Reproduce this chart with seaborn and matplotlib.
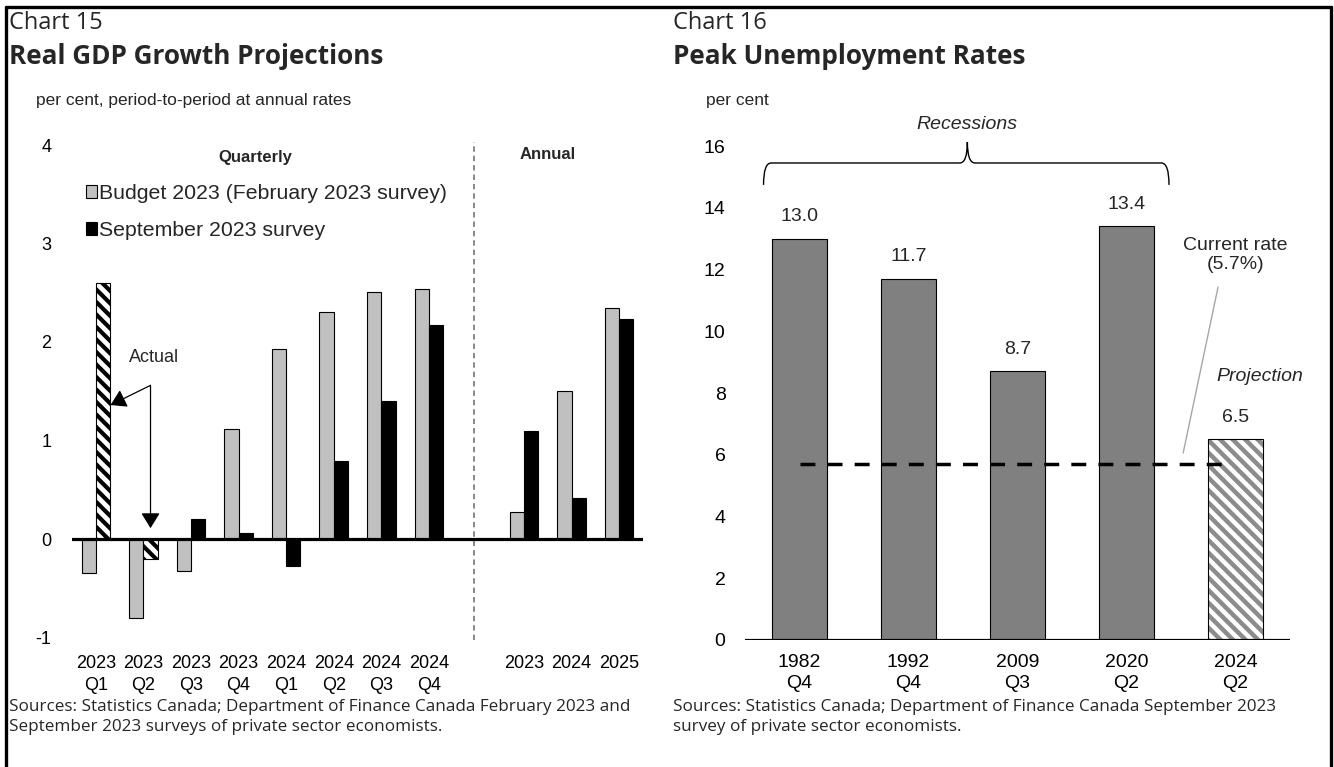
import matplotlib
matplotlib.use("Agg")
import numpy as np
import matplotlib.pyplot as plt
import seaborn as sns
import pandas as pd
from matplotlib.patches import Patch, Rectangle, PathPatch
from matplotlib.path import Path
from matplotlib.lines import Line2D
from matplotlib.collections import LineCollection
from matplotlib.transforms import IdentityTransform

# ---- Chart 15 data: real GDP growth, per cent, period-to-period at annual rates
quarter_labels = ["2023\nQ1", "2023\nQ2", "2023\nQ3", "2023\nQ4",
                  "2024\nQ1", "2024\nQ2", "2024\nQ3", "2024\nQ4"]
annual_labels = ["2023", "2024", "2025"]
series_names = ["Budget 2023 (February 2023 survey)", "September 2023 survey"]
budget_feb_2023 = [-0.35, -0.80, -0.32, 1.12, 1.93, 2.30, 2.51, 2.54, 0.27, 1.50, 2.35]
sept_2023 = [2.60, -0.20, 0.20, 0.06, -0.27, 0.79, 1.40, 2.17, 1.10, 0.42, 2.23]
actual_periods = ["2023\nQ1", "2023\nQ2"]

# ---- Chart 16 data: peak unemployment rates, per cent
peak_labels = ["1982\nQ4", "1992\nQ4", "2009\nQ3", "2020\nQ2", "2024\nQ2"]
peak_rates = [13.0, 11.7, 8.7, 13.4, 6.5]
current_rate = 5.7

W, H = 1334, 767

sns.set_theme(style="white")
plt.rcParams["font.family"] = ["Liberation Sans", "DejaVu Sans"]
plt.rcParams["axes.unicode_minus"] = False
TITLE_FONT = ["Open Sans", "DejaVu Sans"]


def fx(px):
    return px / W


def fy(py):
    return 1 - py / H


def stripe(ax, patch, color, lw, period=12.5):
    """Fill a bar with diagonal stripes (top-left to bottom-right), clipped to it."""
    (x0, y0), (x1, y1) = ax.transData.transform(
        [(patch.get_x(), patch.get_y()),
         (patch.get_x() + patch.get_width(), patch.get_y() + patch.get_height())])
    x0, x1 = sorted((x0, x1))
    y0, y1 = sorted((y0, y1))
    segs = []
    for c in np.arange(x0 + y0 - period, x1 + y1 + period, period):
        segs.append([(x0 - 5, c - x0 + 5), (x1 + 5, c - x1 - 5)])
    lc = LineCollection(segs, colors=color, linewidths=lw,
                        transform=IdentityTransform(), zorder=patch.get_zorder() + 0.05)
    ax.add_collection(lc, autolim=False)
    lc.set_clip_path(patch)
    ax.add_patch(Rectangle((patch.get_x(), patch.get_y()), patch.get_width(),
                           patch.get_height(), fill=False, edgecolor="black",
                           lw=0.8, zorder=patch.get_zorder() + 0.1))


fig = plt.figure(figsize=(W / 100, H / 100), dpi=100)
fig.patch.set_facecolor("white")

# outer frame
for xs, ys in [([6, 6], [7, 767]), ([6, 1331], [7, 7]), ([1331, 1331], [7, 767])]:
    fig.add_artist(Line2D([fx(x) for x in xs], [fy(y) for y in ys],
                          transform=fig.transFigure, color="black", lw=2.4))

# ================= Chart 15 =================
ax1 = fig.add_axes([fx(72), fy(637.5), (643 - 72) / W, (637.5 - 145) / H])
gap = " "
order = quarter_labels + [gap] + annual_labels
periods = quarter_labels + annual_labels
df1 = pd.DataFrame({
    "period": periods * 2,
    "series": [series_names[0]] * len(periods) + [series_names[1]] * len(periods),
    "value": budget_feb_2023 + sept_2023,
})
sns.barplot(data=df1, x="period", y="value", hue="series", order=order,
            hue_order=series_names, palette=["#C0C0C0", "#000000"], saturation=1,
            width=0.6, gap=0, edgecolor="black", linewidth=0.8, errorbar=None,
            legend=False, ax=ax1)

ax1.set_xlim(-0.5, len(order) - 0.5)
ax1.set_ylim(-1, 4)

# actual outcomes drawn striped
actual_idx = [order.index(p) for p in actual_periods]
for p in list(ax1.patches):
    cx = p.get_x() + p.get_width() / 2
    fc = p.get_facecolor()
    if fc[0] < 0.1 and any(abs(cx - (i + 0.15)) < 0.05 for i in actual_idx):
        p.set_facecolor("white")
        p.set_linewidth(0)
        stripe(ax1, p, "black", 3.0)

ax1.set_yticks(range(-1, 5))
ax1.set_xlabel("")
ax1.set_ylabel("")
for s in ax1.spines.values():
    s.set_visible(False)
ax1.axhline(0, color="black", lw=2.3, zorder=5)
ax1.tick_params(axis="both", length=0, labelsize=13, colors="black")
ax1.tick_params(axis="y", pad=15)
ax1.tick_params(axis="x", pad=12.5)
ax1.set_xticks(range(len(order)))
ax1.set_xticklabels(order, linespacing=1.38)

ax1.plot([7.95, 7.95], [-1.03, 4.03], ls=(0, (3, 2.2)), color="#7F7F7F",
         lw=1.3, clip_on=False)
ax1.text(3.35, 3.87, "Quarterly", ha="center", va="center", fontsize=12,
         fontweight="bold")
ax1.text(9.5, 3.9, "Annual", ha="center", va="center", fontsize=12,
         fontweight="bold")

handles = [Patch(facecolor="#C0C0C0", edgecolor="black", lw=0.8),
           Patch(facecolor="black", edgecolor="black", lw=0.8)]
ax1.legend(handles, series_names, loc="upper left",
           bbox_to_anchor=(fx(86), fy(184)), bbox_transform=fig.transFigure,
           frameon=False, fontsize=15.3, handlelength=0.5, handleheight=0.5,
           handletextpad=0.12, labelspacing=0.85, borderaxespad=0, borderpad=0)

# "Actual" callout
vx, vy = 1.15, 1.56
ax1.text(1.22, 1.84, "Actual", ha="center", va="center", fontsize=13)
arrow = dict(arrowstyle="-|>,head_length=0.47,head_width=0.29", color="black",
             lw=0.9, mutation_scale=20, shrinkA=0, shrinkB=0)
ax1.annotate("", xy=(0.31, 1.36), xytext=(vx, vy), arrowprops=arrow)
ax1.annotate("", xy=(1.15, 0.11), xytext=(vx, vy), arrowprops=arrow)

# ================= Chart 16 =================
ax2 = fig.add_axes([fx(745), fy(640), 545 / W, 494 / H])
df2 = pd.DataFrame({"period": peak_labels, "rate": peak_rates})
sns.barplot(data=df2, x="period", y="rate", color="#808080", saturation=1,
            width=0.5, edgecolor="black", linewidth=0.8, errorbar=None, ax=ax2)

ax2.set_xlim(-0.5, 4.5)
ax2.set_ylim(0, 16)

proj = ax2.patches[-1]
proj.set_facecolor("white")
proj.set_linewidth(0)
stripe(ax2, proj, "#8C8C8C", 3.2)

ax2.set_yticks(range(0, 17, 2))
ax2.set_xlabel("")
ax2.set_ylabel("")
for s in ax2.spines.values():
    s.set_visible(False)
ax2.axhline(0, color="black", lw=2.3, zorder=5)
ax2.tick_params(axis="both", length=0, labelsize=14, colors="black")
ax2.tick_params(axis="y", pad=14)
ax2.tick_params(axis="x", pad=10)
ax2.set_xticks(range(len(peak_labels)))
ax2.set_xticklabels(peak_labels, linespacing=1.33)

for i, v in enumerate(peak_rates):
    ax2.text(i, v + 0.72, f"{v:.1f}", ha="center", va="center", fontsize=14)

ax2.plot([0, 3.93], [current_rate, current_rate], ls=(0, (4.3, 3.5)),
         lw=2.5, color="black", dash_capstyle="butt", zorder=4)
ax2.plot([3.84, 3.52], [11.43, 6.06], color="#A6A6A6", lw=1.0)
ax2.text(4.0, 12.47, "Current rate\n(5.7%)", ha="center", va="center",
         fontsize=14, linespacing=1.15)
ax2.text(4.22, 8.52, "Projection", ha="center", va="center", fontsize=14,
         style="italic")

# brace grouping the recession peaks
x0, x1, xc = -0.33, 3.39, 1.54
yb, yh, yt = 14.74, 15.45, 16.13
r = 0.07
verts = [(x0, yb), (x0, yh), (x0 + r, yh), (xc - r, yh), (xc, yh), (xc, yt),
         (xc, yh), (xc + r, yh), (x1 - r, yh), (x1, yh), (x1, yb)]
codes = [Path.MOVETO, Path.CURVE3, Path.CURVE3, Path.LINETO, Path.CURVE3,
         Path.CURVE3, Path.CURVE3, Path.CURVE3, Path.LINETO, Path.CURVE3,
         Path.CURVE3]
ax2.add_patch(PathPatch(Path(verts, codes), fill=False, edgecolor="black",
                        lw=1.0, clip_on=False))
ax2.text(xc, 16.7, "Recessions", ha="center", va="center", fontsize=14,
         style="italic", clip_on=False)

# ================= titles and notes =================
for x0p, num, title, unit, ux in [(9, "Chart 15", "Real GDP Growth Projections",
                                   "per cent, period-to-period at annual rates", 36),
                                  (673, "Chart 16", "Peak Unemployment Rates",
                                   "per cent", 706)]:
    fig.text(fx(x0p), fy(23), num, ha="left", va="center", fontsize=17,
             family=TITLE_FONT)
    fig.text(fx(x0p), fy(57), title, ha="left", va="center", fontsize=18.8,
             fontweight="bold", family=TITLE_FONT)
    fig.text(fx(ux), fy(101), unit, ha="left", va="center", fontsize=12.5)

fig.text(fx(9), fy(717), "Sources: Statistics Canada; Department of Finance Canada "
         "February 2023 and\nSeptember 2023 surveys of private sector economists.",
         ha="left", va="center", fontsize=12.3, family=TITLE_FONT, linespacing=1.35)
fig.text(fx(673), fy(717), "Sources: Statistics Canada; Department of Finance "
         "Canada September 2023\nsurvey of private sector economists.",
         ha="left", va="center", fontsize=12.3, family=TITLE_FONT, linespacing=1.35)

fig.savefig("out.png", dpi=100, facecolor="white")
